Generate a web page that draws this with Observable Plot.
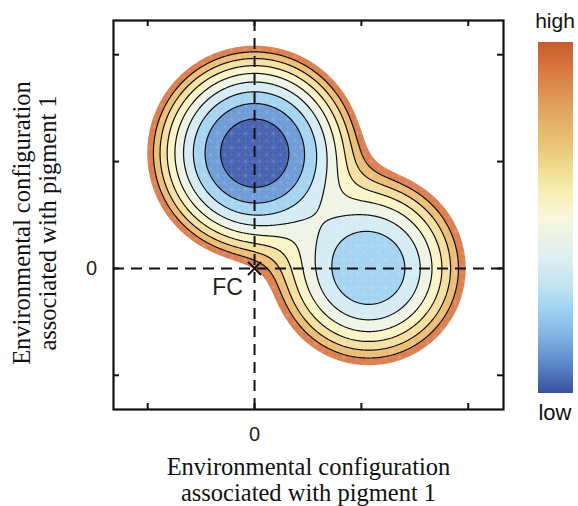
<!DOCTYPE html>
<html><head><meta charset="utf-8">
<script src="https://cdn.jsdelivr.net/npm/d3@7"></script>
<script src="https://cdn.jsdelivr.net/npm/@observablehq/plot@0.6"></script>
<style>body{margin:0;background:#fff}</style>
</head><body><div id="chart"></div>
<script>
// axes
const xDomain = [-1.32, 2.33];
const yDomain = [-1.32, 2.32];
const xTicks = [-1, 0, 1, 2];
const yTicks = [-1, 0, 1, 2];
const labelTicks = [0];
const axisTitle = "Environmental configuration\nassociated with pigment 1";
// landscape: two wells
const wellX = [0, 1.07];
const wellY = [1.08, 0];
const wellFloor = [0.11, 2.04];
const wellCurvature = [8.81, 8.48];
const blend = 3;
// contour levels, lowest (inner) first
const bandLevels = [1, 2, 3, 4, 5, 6, 7, 8, 9];
const lineLevels = [1, 2, 3, 4, 5, 6, 7, 8];
const bandColors = ["#4461b0", "#6d9ad6", "#a3d3f1", "#d4ebf4", "#eef4e5", "#fbf4c6", "#f5dfa0", "#ecbc74", "#da7d4e"];
// colour bar
const barLabels = ["high", "low"];
const barStops = [0, 0.08, 0.18, 0.28, 0.36, 0.43, 0.5, 0.56, 0.62, 0.7, 0.76, 0.84, 0.92, 1];
const barColors = ["#cc5a2e", "#d8793f", "#e0a05c", "#e8c172", "#f0dc90", "#f7efb5", "#f9f7dc", "#eaf1e6", "#dbeef2", "#bfe2f1", "#9fd3f2", "#80b2e2", "#5a85c8", "#3a51a3"];

function landscape(x, y) {
  let s = 0;
  for (let i = 0; i < wellX.length; i++) {
    const r2 = (x - wellX[i]) ** 2 + (y - wellY[i]) ** 2;
    s += Math.exp(-(wellFloor[i] + wellCurvature[i] * r2) / blend);
  }
  return -blend * Math.log(s);
}
const g = (x, y) => -landscape(x, y);
const grid = {x1: xDomain[0], x2: xDomain[1], y1: yDomain[0], y2: yDomain[1], value: g, pixelSize: 1};

const W = 578, H = 506, mL = 113, mR = 75, mT = 20, mB = 97;
const frameH = H - mT - mB, frameW = W - mL - mR;
const sans = "Liberation Sans, Arial, sans-serif";
const serif = "Liberation Serif, Times New Roman, serif";

// outer bands first, inner last
const bandMarks = bandLevels.map((lv, i) => ({lv, color: bandColors[i]})).reverse()
  .map(b => Plot.contour({...grid, thresholds: [-b.lv], fill: b.color, stroke: "none"}));

const chart = Plot.plot({
  width: W, height: H,
  marginLeft: mL, marginRight: mR, marginTop: mT, marginBottom: mB,
  x: {domain: xDomain, axis: null},
  y: {domain: yDomain, axis: null},
  style: {background: "#fff", fontFamily: sans},
  marks: [
    ...bandMarks,
    Plot.contour({...grid, thresholds: lineLevels.map(d => -d), fill: "none", stroke: "#111", strokeWidth: 1.2}),
    Plot.ruleX([0], {x: d => d, stroke: "#111", strokeWidth: 2, strokeDasharray: "11,7"}),
    Plot.ruleY([0], {y: d => d, stroke: "#111", strokeWidth: 2, strokeDasharray: "11,7"}),
    Plot.dot([0], {x: d => d, y: d => d, symbol: "times", r: 6, stroke: "#111", strokeWidth: 2}),
    Plot.text([0], {x: d => d, y: d => d, text: () => "FC", dx: -27, dy: 19, fontSize: 23, fill: "#231f20", fontFamily: sans}),
    Plot.tickX(xTicks, {x: d => d, insetTop: frameH - 6, stroke: "#111", strokeWidth: 2}),
    Plot.tickX(xTicks, {x: d => d, insetBottom: frameH - 6, stroke: "#111", strokeWidth: 2}),
    Plot.tickY(yTicks, {y: d => d, insetRight: frameW - 6, stroke: "#111", strokeWidth: 2}),
    Plot.tickY(yTicks, {y: d => d, insetLeft: frameW - 6, stroke: "#111", strokeWidth: 2}),
    Plot.frame({stroke: "#111", strokeWidth: 2.2}),
    Plot.text(labelTicks, {x: d => d, frameAnchor: "bottom", dy: 25, text: d => String(d), fontSize: 20, fill: "#231f20", lineAnchor: "middle"}),
    Plot.text(labelTicks, {y: d => d, frameAnchor: "left", dx: -22, text: d => String(d), fontSize: 20, fill: "#231f20", textAnchor: "middle"}),
    Plot.text([axisTitle], {frameAnchor: "bottom", dy: 70, text: d => d, fontSize: 24.5, fontFamily: serif, textAnchor: "middle", lineAnchor: "middle", lineHeight: 1.06, fill: "#111"}),
    Plot.text([axisTitle], {frameAnchor: "left", dx: -79, dy: 8, rotate: -90, text: d => d, fontSize: 24.5, fontFamily: serif, textAnchor: "middle", lineAnchor: "middle", lineHeight: 1.06, fill: "#111"})
  ]
});
document.getElementById("chart").appendChild(chart);

const svg = d3.select(chart);
const defs = svg.append("defs");

// faint mesh texture over the filled landscape
const pat = defs.append("pattern").attr("id", "mesh").attr("patternUnits", "userSpaceOnUse")
  .attr("width", 14).attr("height", 14);
pat.append("path").attr("d", "M0,0H14M0,0V14M0,0L14,14M14,0L0,14M7,0V14M0,7H14")
  .attr("stroke", "#fff").attr("stroke-width", 0.6).attr("stroke-opacity", 0.22).attr("fill", "none");
const contourGroups = svg.selectAll('g[aria-label="contour"]').nodes();
if (contourGroups.length > bandLevels.length) {
  const outer = contourGroups[0].querySelector("path");
  const lineGroup = contourGroups[bandLevels.length];
  if (outer) {
    const clone = outer.cloneNode(true);
    clone.setAttribute("fill", "url(#mesh)");
    clone.removeAttribute("stroke");
    const wrap = document.createElementNS("http://www.w3.org/2000/svg", "g");
    const t = contourGroups[0].getAttribute("transform");
    if (t) wrap.setAttribute("transform", t);
    wrap.appendChild(clone);
    lineGroup.parentNode.insertBefore(wrap, lineGroup);
  }
}

// colour bar legend
const grad = defs.append("linearGradient").attr("id", "barGrad").attr("x1", 0).attr("x2", 0).attr("y1", 0).attr("y2", 1);
barStops.forEach((o, i) => grad.append("stop").attr("offset", o).attr("stop-color", barColors[i]));
svg.append("rect").attr("x", 538).attr("y", 42).attr("width", 35).attr("height", 351).attr("fill", "url(#barGrad)");
svg.append("text").attr("x", 555).attr("y", 28).attr("text-anchor", "middle").attr("font-size", 21).attr("font-family", sans).attr("fill", "#111").text(barLabels[0]);
svg.append("text").attr("x", 555).attr("y", 420).attr("text-anchor", "middle").attr("font-size", 22).attr("font-family", sans).attr("fill", "#111").text(barLabels[1]);
</script>
</body></html>
